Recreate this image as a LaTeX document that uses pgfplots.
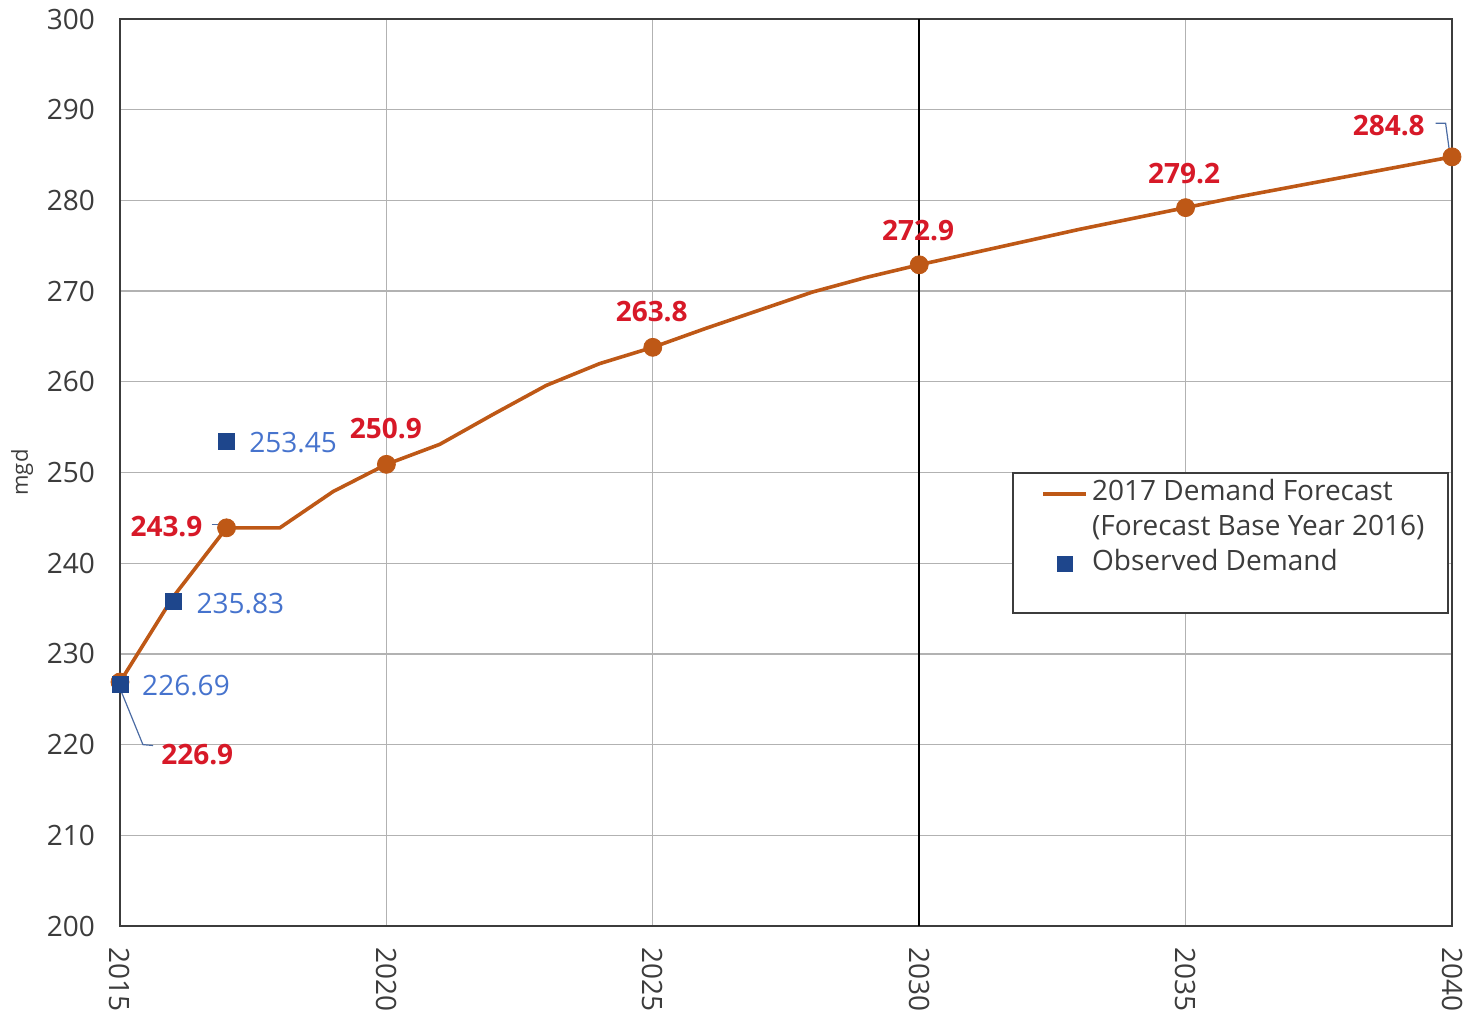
\documentclass[border=0pt]{standalone}
\usepackage{fontspec}
\setmainfont{Open Sans}
\usepackage{pgfplots}
\pgfplotsset{compat=1.18}
\definecolor{fc}{RGB}{190,88,22}
\definecolor{lblred}{RGB}{215,25,40}
\definecolor{lblblue}{RGB}{70,115,205}
\definecolor{obs}{RGB}{30,70,140}
\definecolor{txt}{RGB}{60,60,60}
\begin{document}
\begin{tikzpicture}
\path[use as bounding box] (-60pt,-42.5pt) rectangle (675pt,463pt);
\begin{axis}[
  scale only axis, width=666pt, height=453.5pt,
  xmin=2015, xmax=2040, ymin=200, ymax=300,
  xtick={2015,2020,...,2040}, ytick={200,210,...,300},
  major tick length=0pt,
  /pgf/number format/assume math mode=true,
  /pgf/number format/1000 sep={},
  tick label style={font=\fontsize{14}{16}\selectfont, text=txt},
  xticklabel style={rotate=-90, anchor=west, xshift=7pt},
  yticklabel style={xshift=-9pt},
  grid=major,
  major grid style={gray!60, line width=0.6pt},
  axis line style={txt, line width=1pt},
  ylabel={mgd},
  ylabel style={font=\fontsize{11}{13}\selectfont, text=txt},
  clip=false,
  legend cell align=left,
  legend style={at={(rel axis cs:0.6697,0.5006)}, anchor=north west,
    draw=txt, line width=1pt, font=\fontsize{14}{16}\selectfont, text=txt,
    cells={anchor=base west, text height=12pt, text depth=4pt, inner ysep=1.4pt, inner xsep=1pt},
    inner xsep=10pt, inner ysep=0pt},
]
\draw[black, line width=0.8pt] (axis cs:2030,200) -- (axis cs:2030,300);
\addplot[fc, line width=1.8pt, no marks,
  legend image code/.code={\draw[fc, line width=1.8pt] (5pt,0.35em) -- (0.76cm+5pt,0.35em);}]
  table {
2015 226.9
2016 236.3
2017 243.9
2018 243.9
2019 247.9
2020 250.9
2021 253.1
2022 256.4
2023 259.6
2024 262.0
2025 263.8
2026 265.9
2027 267.9
2028 269.9
2029 271.5
2030 272.9
2031 274.2
2032 275.5
2033 276.8
2034 278.0
2035 279.2
2036 280.4
2037 281.5
2038 282.6
2039 283.7
2040 284.8
};
\addlegendentry{2017 Demand Forecast}
\addlegendimage{empty legend}
\addlegendentry{(Forecast Base Year 2016)}
\addplot[only marks, mark=*, fc, mark size=4.5pt, forget plot] table {
2015 226.9
2017 243.9
2020 250.9
2025 263.8
2030 272.9
2035 279.2
2040 284.8
};
\addplot[only marks, mark=square*, obs, mark size=4pt,
  legend image code/.code={\draw[obs, fill=obs] (0.38cm+5pt-3.5pt,0.35em-3.5pt) rectangle (0.38cm+5pt+3.5pt,0.35em+3.5pt);}]
  table {
2015 226.69
2016 235.83
2017 253.45
};
\addlegendentry{Observed Demand}
\addlegendimage{empty legend}
\addlegendentry{}
% leader lines
\draw[obs!80, line width=0.6pt] (axis cs:2015,226.2) -- (axis cs:2015.43,220.0) -- (axis cs:2015.62,219.9);
\draw[obs!80, line width=0.6pt] (axis cs:2016.72,244.3) -- (axis cs:2016.95,244.3);
\draw[obs!80, line width=0.6pt] (axis cs:2039.69,288.5) -- (axis cs:2039.88,288.5) -- (axis cs:2039.95,285.5);
% data labels
\begin{scope}[every node/.style={font=\bfseries\fontsize{14}{16}\selectfont, text=lblred}]
\node at (axis cs:2016.45,218.85) {226.9};
\node[anchor=east] at (axis cs:2016.68,244.0) {243.9};
\node at (axis cs:2019.99,254.9) {250.9};
\node at (axis cs:2024.98,267.7) {263.8};
\node at (axis cs:2029.98,276.7) {272.9};
\node at (axis cs:2034.97,283.0) {279.2};
\node[anchor=east] at (axis cs:2039.62,288.3) {284.8};
\end{scope}
\begin{scope}[every node/.style={font=\fontsize{14}{16}\selectfont, text=lblblue, anchor=west, inner xsep=0pt}]
\node at (axis cs:2015.41,226.5) {226.69};
\node at (axis cs:2016.43,235.5) {235.83};
\node at (axis cs:2017.42,253.25) {253.45};
\end{scope}
\end{axis}
\end{tikzpicture}
\end{document}
